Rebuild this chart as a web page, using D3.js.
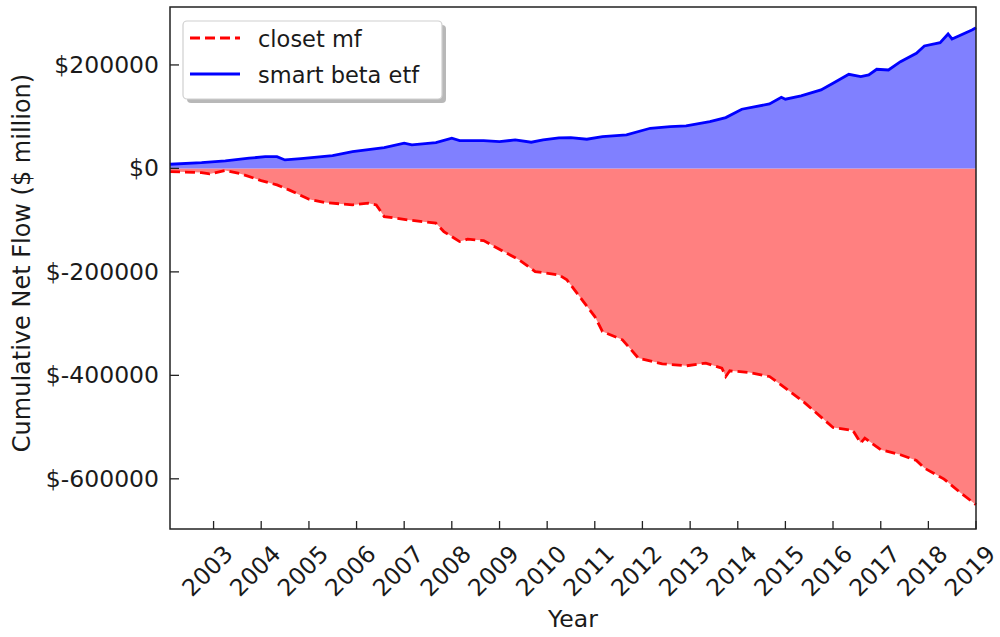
<!DOCTYPE html>
<html>
<head>
<meta charset="utf-8">
<script src="https://cdn.jsdelivr.net/npm/d3@7"></script>
<style>
body { margin: 0; background: #fff; }
text { font-family: "DejaVu Sans", sans-serif; fill: #1a1a1a; }
</style>
</head>
<body>
<svg id="chart" width="1000" height="637"></svg>
<script>
// closet mutual funds, cumulative net flow ($ million)
var mfDates = ["2002-02","2002-10","2002-12","2003-04","2003-08","2004-01","2004-05","2004-08","2005-01","2005-05",
    "2005-12","2006-04","2006-06","2006-08","2007-02","2007-09","2007-11","2008-03","2008-05","2008-09",
    "2009-02","2009-06","2009-10","2010-04","2010-06","2010-09","2011-01","2011-03","2011-08","2011-12",
    "2012-06","2012-12","2013-05","2013-09","2013-10","2013-11","2014-04","2014-09","2015-01","2015-06",
    "2016-01","2016-06","2016-08","2016-09","2017-01","2017-06","2017-10","2017-12","2018-05","2018-09","2019-01"];
var mfValues = [-6200,-8100,-10600,-4200,-10600,-23600,-31900,-41500,-59500,-66000,
    -70500,-67200,-70500,-93100,-99500,-105900,-122100,-141400,-136800,-139500,
    -160700,-176800,-199400,-205800,-215400,-246000,-286300,-315300,-331300,-366700,
    -377700,-381600,-376400,-386000,-402200,-391200,-394500,-402200,-424700,-453600,
    -500800,-506500,-530900,-521200,-543800,-553500,-564500,-579200,-600500,-626300,-650000];

// smart beta etfs
var etfDates = ["2002-02","2002-10","2003-04","2003-10","2004-02","2004-05","2004-07","2004-11","2005-07","2005-12",
    "2006-08","2007-01","2007-03","2007-09","2008-01","2008-03","2008-09","2009-01","2009-05","2009-09",
    "2009-12","2010-04","2010-07","2010-11","2011-03","2011-09","2012-03","2012-08","2012-12","2013-06",
    "2013-10","2014-02","2014-09","2014-12","2015-01","2015-05","2015-10","2016-01","2016-05","2016-08",
    "2016-10","2016-12","2017-03","2017-06","2017-10","2017-12","2018-04","2018-06","2018-07","2018-12","2019-01"];
var etfValues = [8000,11000,14500,19700,22800,22800,16400,19000,24700,32500,
    40200,48700,45400,49900,58300,53700,53700,51800,55000,50600,
    55000,58900,59500,56400,61500,64700,77600,80800,82100,90400,
    98200,114400,124600,137500,133700,140100,151700,164600,182000,177400,
    180600,191600,190300,206300,222600,236700,243000,259900,250200,267600,272000];

var yearTicks = [2003,2004,2005,2006,2007,2008,2009,2010,2011,2012,2013,2014,2015,2016,2017,2018,2019];
var yTicks = [200000, 0, -200000, -400000, -600000];
var seriesNames = ["closet mf", "smart beta etf"];

(function() {
    var svg = d3.select("#chart"),
        pl = 170, pr = 976, pt = 7, pb = 529,
        fs = "23.5px",
        parse = d3.timeParse("%Y-%m");

    var x = d3.scaleTime()
        .domain([parse("2002-02"), parse("2019-01")])
        .range([pl, pr]);
    var y = d3.scaleLinear()
        .domain([-697000, 312000])
        .range([pb, pt]);

    var mf = mfDates.map(function(d, i) { return { date: parse(d), value: mfValues[i] }; });
    var etf = etfDates.map(function(d, i) { return { date: parse(d), value: etfValues[i] }; });

    var area = d3.area()
        .x(function(d) { return x(d.date); })
        .y0(y(0))
        .y1(function(d) { return y(d.value); });
    var line = d3.line()
        .x(function(d) { return x(d.date); })
        .y(function(d) { return y(d.value); });

    svg.append("path").datum(mf).attr("d", area).attr("fill", "#ff8080");
    svg.append("path").datum(etf).attr("d", area).attr("fill", "#8080ff");
    svg.append("path").datum(mf).attr("d", line)
        .attr("fill", "none").attr("stroke", "#ff0000").attr("stroke-width", 2.8)
        .attr("stroke-dasharray", "10,5");
    svg.append("path").datum(etf).attr("d", line)
        .attr("fill", "none").attr("stroke", "#0000ff").attr("stroke-width", 2.8);

    // frame
    svg.append("rect")
        .attr("x", pl).attr("y", pt)
        .attr("width", pr - pl).attr("height", pb - pt)
        .attr("fill", "none").attr("stroke", "#222").attr("stroke-width", 1.5);

    // y ticks (inward)
    var yg = svg.append("g");
    yTicks.forEach(function(v) {
        yg.append("line")
            .attr("x1", pl).attr("x2", pl + 9)
            .attr("y1", y(v)).attr("y2", y(v))
            .attr("stroke", "#222").attr("stroke-width", 1.3);
        yg.append("text")
            .attr("x", pl - 11).attr("y", y(v))
            .attr("text-anchor", "end").attr("dominant-baseline", "central")
            .style("font-size", fs)
            .text("$" + v);
    });

    // x ticks (inward)
    var xg = svg.append("g");
    yearTicks.forEach(function(yr) {
        var px = x(new Date(yr, 0, 1));
        xg.append("line")
            .attr("x1", px).attr("x2", px)
            .attr("y1", pb).attr("y2", pb - 8)
            .attr("stroke", "#222").attr("stroke-width", 1.3);
        xg.append("text")
            .attr("transform", "translate(" + (px - 6) + "," + 571 + ") rotate(-45)")
            .attr("text-anchor", "middle").attr("dominant-baseline", "central")
            .style("font-size", fs)
            .text(yr);
    });

    svg.append("text")
        .attr("x", (pl + pr) / 2).attr("y", 619)
        .attr("text-anchor", "middle").attr("dominant-baseline", "central")
        .style("font-size", fs)
        .text("Year");

    svg.append("text")
        .attr("transform", "translate(22,263) rotate(-90)")
        .attr("text-anchor", "middle").attr("dominant-baseline", "central")
        .style("font-size", "24px")
        .text("Cumulative Net Flow ($ million)");

    // legend
    var lg = svg.append("g");
    lg.append("rect")
        .attr("x", 187).attr("y", 25).attr("width", 259).attr("height", 78)
        .attr("rx", 4).attr("fill", "#9a9a9a").attr("opacity", 0.7);
    lg.append("rect")
        .attr("x", 183).attr("y", 21).attr("width", 259).attr("height", 78)
        .attr("rx", 4).attr("fill", "#fff").attr("stroke", "#cfcfcf").attr("stroke-width", 1.2);
    lg.append("line")
        .attr("x1", 190).attr("x2", 240).attr("y1", 38).attr("y2", 38)
        .attr("stroke", "#ff0000").attr("stroke-width", 2.8).attr("stroke-dasharray", "10,5");
    lg.append("line")
        .attr("x1", 190).attr("x2", 240).attr("y1", 74).attr("y2", 74)
        .attr("stroke", "#0000ff").attr("stroke-width", 2.8);
    lg.selectAll("text.leg")
        .data(seriesNames)
        .enter().append("text")
        .attr("class", "leg")
        .attr("x", 258)
        .attr("y", function(d, i) { return 47 + i * 36; })
        .style("font-size", "22.5px")
        .text(function(d) { return d; });
})();
</script>
</body>
</html>
